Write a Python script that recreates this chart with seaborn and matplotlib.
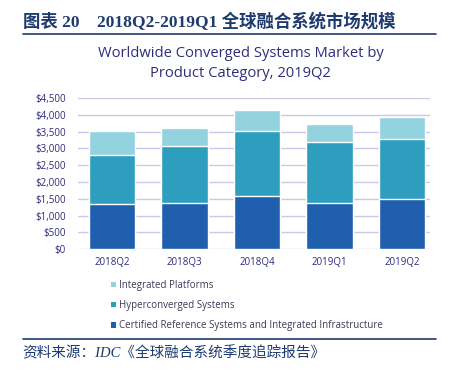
import matplotlib
matplotlib.use("Agg")
import matplotlib.pyplot as plt
from matplotlib.patches import Patch
from matplotlib.lines import Line2D
import pandas as pd
import seaborn as sns

# 数据 (单位: 百万美元, 从图中读取)
quarters = ["2018Q2", "2018Q3", "2018Q4", "2019Q1", "2019Q2"]
certified = [1340, 1380, 1580, 1370, 1480]
hyperconverged = [1460, 1695, 1950, 1830, 1805]
integrated = [720, 545, 610, 520, 645]
series_names = ["Integrated Platforms", "Hyperconverged Systems",
                "Certified Reference Systems and Integrated Infrastructure"]
yticks = [0, 500, 1000, 1500, 2000, 2500, 3000, 3500, 4000, 4500]

colors = ["#93d2df", "#2e9ebf", "#1f5fae"]
navy = "#2e2c7c"
head_color = "#1d3b6e"

sns.set_theme(style="white")
plt.rcParams["font.family"] = ["Open Sans", "DejaVu Sans"]

df = pd.DataFrame({"quarter": quarters, "certified": certified,
                   "hyper": hyperconverged, "integrated": integrated})
df["mid"] = df["certified"] + df["hyper"]
df["total"] = df["mid"] + df["integrated"]

fig = plt.figure(figsize=(4.51, 3.74), dpi=100)
ax = fig.add_axes([0.173, 0.334, 0.78, 0.404])

# 堆叠柱状图: 先画总高, 再往上覆盖
sns.barplot(data=df, x="quarter", y="total", color=colors[0], width=0.64,
            saturation=1, ax=ax, zorder=3)
sns.barplot(data=df, x="quarter", y="mid", color=colors[1], width=0.64,
            saturation=1, ax=ax, zorder=3)
sns.barplot(data=df, x="quarter", y="certified", color=colors[2], width=0.64,
            saturation=1, ax=ax, zorder=3)

ax.set_ylim(0, 4500)
ax.set_xlim(-0.47, 4.38)
ax.set_yticks(yticks)
ax.set_yticklabels(["$" + format(v, ",") for v in yticks])
ax.yaxis.grid(True, color="#c9c8ea", linewidth=1.0, zorder=0)
ax.set_axisbelow(True)
ax.set_xlabel("")
ax.set_ylabel("")
for s in ax.spines.values():
    s.set_visible(False)
ax.tick_params(axis="y", length=0, pad=9, labelsize=7, labelcolor=navy)
ax.tick_params(axis="x", length=0, pad=6, labelsize=7, labelcolor=navy)

# 图例
handles = [Patch(facecolor=c, edgecolor="none") for c in colors]
fig.legend(handles, series_names, loc="upper left", bbox_to_anchor=(0.238, 0.262),
           frameon=False, fontsize=7, labelcolor="#3a3a5a",
           handlelength=0.5, handleheight=0.5, handletextpad=0.35,
           labelspacing=0.95, borderaxespad=0)

# 图表标题
fig.text(0.533, 0.83, "Worldwide Converged Systems Market by\nProduct Category, 2019Q2",
         ha="center", va="center", fontsize=10.6, color=navy, linespacing=1.5)

# 表头与来源
fig.text(0.05, 0.94, "图表 20    2018Q2-2019Q1 全球融合系统市场规模",
         family=["Liberation Serif", "Noto Sans CJK SC"], fontweight="bold",
         fontsize=12.5, color=head_color, ha="left", va="center")
fig.add_artist(Line2D([0.05, 0.967], [0.908, 0.908], color=head_color, linewidth=1.2))
fig.add_artist(Line2D([0.05, 0.967], [0.093, 0.093], color=head_color, linewidth=1.2))
fig.text(0.05, 0.056, "资料来源：IDC《全球融合系统季度追踪报告》",
         family=["Liberation Serif", "Noto Sans CJK SC"], style="italic",
         fontsize=10.5, color=head_color, ha="left", va="center")

fig.savefig("out.png", dpi=100)
